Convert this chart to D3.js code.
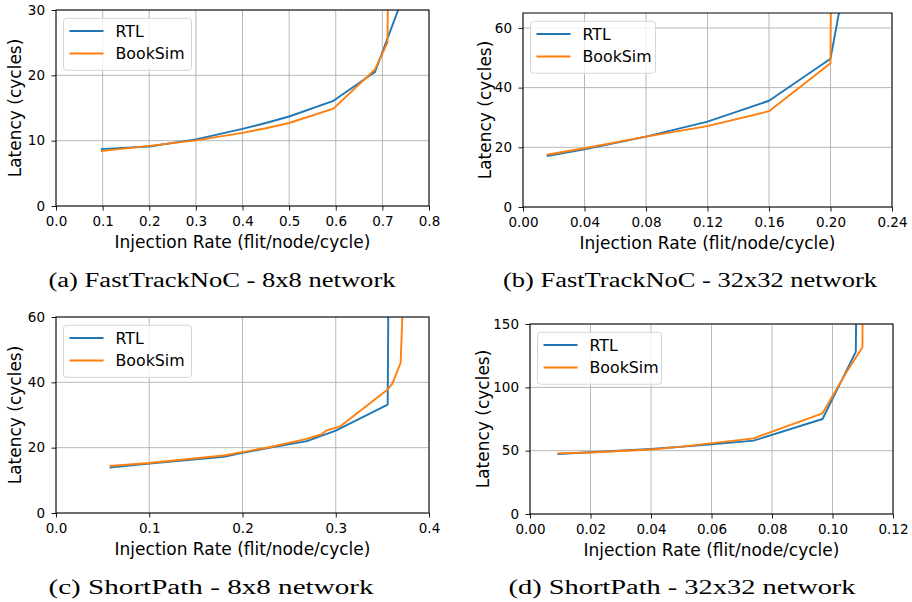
<!DOCTYPE html>
<html>
<head>
<meta charset="utf-8">
<script src="https://cdn.jsdelivr.net/npm/d3@7"></script>
<style>
  html, body { margin: 0; padding: 0; background: #fff; }
  svg { display: block; }
</style>
</head>
<body>
<svg id="fig" width="912" height="602"></svg>
<script>
// Latency vs. injection rate, RTL vs. BookSim, four configurations.

// (a) FastTrackNoC 8x8
const ftc8RtlRate  = [0.096, 0.2, 0.3, 0.4, 0.45, 0.5, 0.595, 0.684, 0.76];
const ftc8RtlLat   = [8.7, 9.1, 10.2, 11.8, 12.7, 13.7, 16.1, 20.5, 35];
const ftc8BookRate = [0.096, 0.2, 0.3, 0.4, 0.45, 0.5, 0.595, 0.684, 0.711, 0.713];
const ftc8BookLat  = [8.4, 9.2, 10.05, 11.2, 11.9, 12.7, 14.9, 20.9, 25.0, 45];

// (b) FastTrackNoC 32x32
const ftc32RtlRate  = [0.0154, 0.04, 0.08, 0.12, 0.16, 0.2, 0.208];
const ftc32RtlLat   = [17.1, 19.3, 23.6, 28.6, 35.6, 49.7, 72];
const ftc32BookRate = [0.0154, 0.04, 0.08, 0.12, 0.16, 0.2, 0.2005];
const ftc32BookLat  = [17.5, 19.7, 23.6, 27.1, 32.1, 48.2, 90];

// (c) ShortPath 8x8
const sp8RtlRate  = [0.0575, 0.1, 0.18, 0.2, 0.23, 0.269, 0.3, 0.3557, 0.357];
const sp8RtlLat   = [13.9, 15.1, 17.2, 18.4, 20.0, 22.0, 25.2, 33.2, 90];
const sp8BookRate = [0.0575, 0.1, 0.18, 0.23, 0.269, 0.285, 0.2896, 0.3046, 0.3557, 0.3607, 0.3696, 0.374];
const sp8BookLat  = [14.4, 15.3, 17.6, 20.2, 22.7, 24.1, 25.2, 26.5, 37.8, 39.6, 46, 80];

// (d) ShortPath 32x32
const sp32RtlRate  = [0.0091, 0.02, 0.04, 0.06, 0.0739, 0.0967, 0.1077, 0.108];
const sp32RtlLat   = [47.4, 48.7, 51.3, 55, 57.9, 75, 128, 200];
const sp32BookRate = [0.0091, 0.02, 0.04, 0.0504, 0.0739, 0.0967, 0.1047, 0.1099, 0.11];
const sp32BookLat  = [47.9, 48.6, 50.9, 53.2, 59.7, 79.5, 112.3, 131.6, 200];

// Tick values per panel
const xTicksA = [0, 0.1, 0.2, 0.3, 0.4, 0.5, 0.6, 0.7, 0.8];
const yTicksA = [0, 10, 20, 30];
const xTicksB = [0, 0.04, 0.08, 0.12, 0.16, 0.2, 0.24];
const yTicksB = [0, 20, 40, 60];
const xTicksC = [0, 0.1, 0.2, 0.3, 0.4];
const yTicksC = [0, 20, 40, 60];
const xTicksD = [0, 0.02, 0.04, 0.06, 0.08, 0.1, 0.12];
const yTicksD = [0, 50, 100, 150];

const seriesNames = ["RTL", "BookSim"];
const seriesColors = ["#1f77b4", "#ff7f0e"];

const captions = [
  "(a) FastTrackNoC - 8x8 network",
  "(b) FastTrackNoC - 32x32 network",
  "(c) ShortPath - 8x8 network",
  "(d) ShortPath - 32x32 network"
];

const panels = [
  { box: {l: 56, t: 10, r: 429, b: 206}, xMax: 0.8, yMax: 30, xTicks: xTicksA, yTicks: yTicksA, xFmt: ".1f",
    series: [[ftc8RtlRate, ftc8RtlLat], [ftc8BookRate, ftc8BookLat]], caption: captions[0],
    capX: 222, capY: 287, capW: 347, yLabOff: 35, legW: 128 },
  { box: {l: 523, t: 13, r: 892, b: 207}, xMax: 0.24, yMax: 65, xTicks: xTicksB, yTicks: yTicksB, xFmt: ".2f",
    series: [[ftc32RtlRate, ftc32RtlLat], [ftc32BookRate, ftc32BookLat]], caption: captions[1],
    capX: 690, capY: 287, capW: 374, yLabOff: 32, legW: 125 },
  { box: {l: 56, t: 317, r: 429, b: 513}, xMax: 0.4, yMax: 60, xTicks: xTicksC, yTicks: yTicksC, xFmt: ".1f",
    series: [[sp8RtlRate, sp8RtlLat], [sp8BookRate, sp8BookLat]], caption: captions[2],
    capX: 211, capY: 594, capW: 325, yLabOff: 35, legW: 128 },
  { box: {l: 530, t: 324, r: 893, b: 514}, xMax: 0.12, yMax: 150, xTicks: xTicksD, yTicks: yTicksD, xFmt: ".2f",
    series: [[sp32RtlRate, sp32RtlLat], [sp32BookRate, sp32BookLat]], caption: captions[3],
    capX: 682, capY: 594, capW: 347, yLabOff: 41, legW: 124 }
];

const svg = d3.select("#fig");
svg.append("rect").attr("width", 912).attr("height", 602).attr("fill", "#fff");

const sansFont = "'DejaVu Sans', sans-serif";

panels.forEach((p, i) => {
  const {l, t, r, b} = p.box;
  const x = d3.scaleLinear().domain([0, p.xMax]).range([l, r]);
  const y = d3.scaleLinear().domain([0, p.yMax]).range([b, t]);
  const g = svg.append("g");

  // grid
  g.append("g").selectAll("line").data(p.xTicks).join("line")
    .attr("x1", d => x(d)).attr("x2", d => x(d)).attr("y1", t).attr("y2", b)
    .attr("stroke", "#b0b0b0").attr("stroke-width", 0.9);
  g.append("g").selectAll("line").data(p.yTicks).join("line")
    .attr("x1", l).attr("x2", r).attr("y1", d => y(d)).attr("y2", d => y(d))
    .attr("stroke", "#b0b0b0").attr("stroke-width", 0.9);

  // curves, clipped to the axes area
  const clipId = "clip" + i;
  svg.append("clipPath").attr("id", clipId).append("rect")
    .attr("x", l).attr("y", t).attr("width", r - l).attr("height", b - t);
  const line = d3.line().x(d => x(d[0])).y(d => y(d[1]));
  p.series.forEach(([rates, lats], s) => {
    const pts = rates.map((v, k) => [v, lats[k]]);
    g.append("path").datum(pts)
      .attr("clip-path", `url(#${clipId})`)
      .attr("d", line).attr("fill", "none")
      .attr("stroke", seriesColors[s]).attr("stroke-width", 1.9)
      .attr("stroke-linejoin", "round").attr("stroke-linecap", "butt");
  });

  // axes
  const xAxis = d3.axisBottom(x).tickValues(p.xTicks).tickFormat(d3.format(p.xFmt))
    .tickSize(4.5).tickPadding(5.5);
  const yAxis = d3.axisLeft(y).tickValues(p.yTicks).tickFormat(d3.format("d"))
    .tickSize(4.5).tickPadding(6.5);
  const gx = g.append("g").attr("transform", `translate(0,${b})`).call(xAxis);
  const gy = g.append("g").attr("transform", `translate(${l},0)`).call(yAxis);
  [gx, gy].forEach(a => {
    a.select(".domain").remove();
    a.selectAll("line").attr("stroke", "#000").attr("stroke-width", 0.9);
    a.selectAll("text").attr("font-family", sansFont).attr("font-size", 13.5).attr("fill", "#000");
  });

  // frame
  g.append("rect").attr("x", l).attr("y", t).attr("width", r - l).attr("height", b - t)
    .attr("fill", "none").attr("stroke", "#000").attr("stroke-width", 1);

  // axis labels
  g.append("text").attr("x", (l + r) / 2).attr("y", b + 42)
    .attr("text-anchor", "middle").attr("font-family", sansFont).attr("font-size", 17)
    .text("Injection Rate (flit/node/cycle)");
  g.append("text").attr("transform", `translate(${l - p.yLabOff},${(t + b) / 2}) rotate(-90)`)
    .attr("text-anchor", "middle").attr("font-family", sansFont).attr("font-size", 17)
    .text("Latency (cycles)");

  // legend
  const lx = l + 7.5, ly = t + 8.3;
  const lh = 52;
  const leg = g.append("g");
  leg.append("rect").attr("x", lx).attr("y", ly).attr("width", p.legW).attr("height", lh)
    .attr("rx", 3).attr("fill", "#fff").attr("fill-opacity", 0.8)
    .attr("stroke", "#d6d6d6").attr("stroke-width", 1);
  seriesNames.forEach((name, s) => {
    const yy = ly + 12.7 + s * 22.5;
    leg.append("line").attr("x1", lx + 6).attr("x2", lx + 40).attr("y1", yy).attr("y2", yy)
      .attr("stroke", seriesColors[s]).attr("stroke-width", 1.9);
    leg.append("text").attr("x", lx + 52).attr("y", yy + 5.5)
      .attr("font-family", sansFont).attr("font-size", 15.8).text(name);
  });

  // caption
  svg.append("text").attr("x", p.capX).attr("y", p.capY)
    .attr("text-anchor", "middle").attr("font-family", "'Liberation Serif', serif")
    .attr("font-size", 20).attr("textLength", p.capW).attr("lengthAdjust", "spacingAndGlyphs")
    .text(p.caption);
});
</script>
</body>
</html>
